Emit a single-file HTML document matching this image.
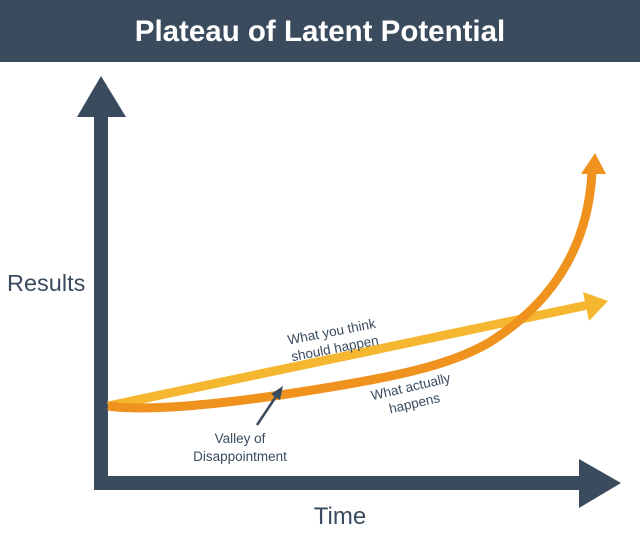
<!DOCTYPE html>
<html><head><meta charset="utf-8"><style>
html,body{margin:0;padding:0;background:#fff;width:640px;height:534px;overflow:hidden}
</style></head><body>
<svg width="640" height="534" viewBox="0 0 640 534" xmlns="http://www.w3.org/2000/svg" font-family="Liberation Sans, sans-serif">
<rect x="0" y="0" width="640" height="62" fill="#3a4b5e"/>
<text x="320" y="41" text-anchor="middle" fill="#fff" font-size="29.5" font-weight="bold">Plateau of Latent Potential</text>
<!-- axes -->
<rect x="94" y="112" width="14" height="378" fill="#3a4b5e"/>
<polygon points="101,76 77,117 126,117" fill="#3a4b5e"/>
<rect x="94" y="476" width="488" height="14" fill="#3a4b5e"/>
<polygon points="621,483 579,459 579,508" fill="#3a4b5e"/>
<text x="7" y="291" font-size="23.5" fill="#3a4b5e">Results</text>
<text x="340" y="524" font-size="24" fill="#3a4b5e" text-anchor="middle">Time</text>
<!-- yellow -->
<line x1="108" y1="406" x2="588" y2="305" stroke="#f4b72f" stroke-width="9"/>
<polygon points="608,301 583,292 589,321" fill="#f4b72f"/>
<!-- orange -->
<path d="M108,406 C150,412 230,403 300,392 C390,378 450,366 490,342 C550,304 588,250 592,172" fill="none" stroke="#f0921e" stroke-width="9"/>
<polygon points="595,153 581,174 606,174" fill="#f0921e"/>
<!-- valley arrow -->
<line x1="257" y1="425" x2="277" y2="395" stroke="#3a4b5e" stroke-width="2.5"/>
<polygon points="283,386 271,394 280,400" fill="#3a4b5e"/>
<g font-size="13.5" fill="#3a4b5e" text-anchor="middle">
<g transform="translate(334,344) rotate(-11)"><text y="-8">What you think</text><text y="9">should happen</text></g>
<g transform="translate(413,397) rotate(-13)"><text y="-6">What actually</text><text y="11">happens</text></g>
<text x="240" y="443">Valley of</text>
<text x="240" y="461">Disappointment</text>
</g>
</svg>
</body></html>
